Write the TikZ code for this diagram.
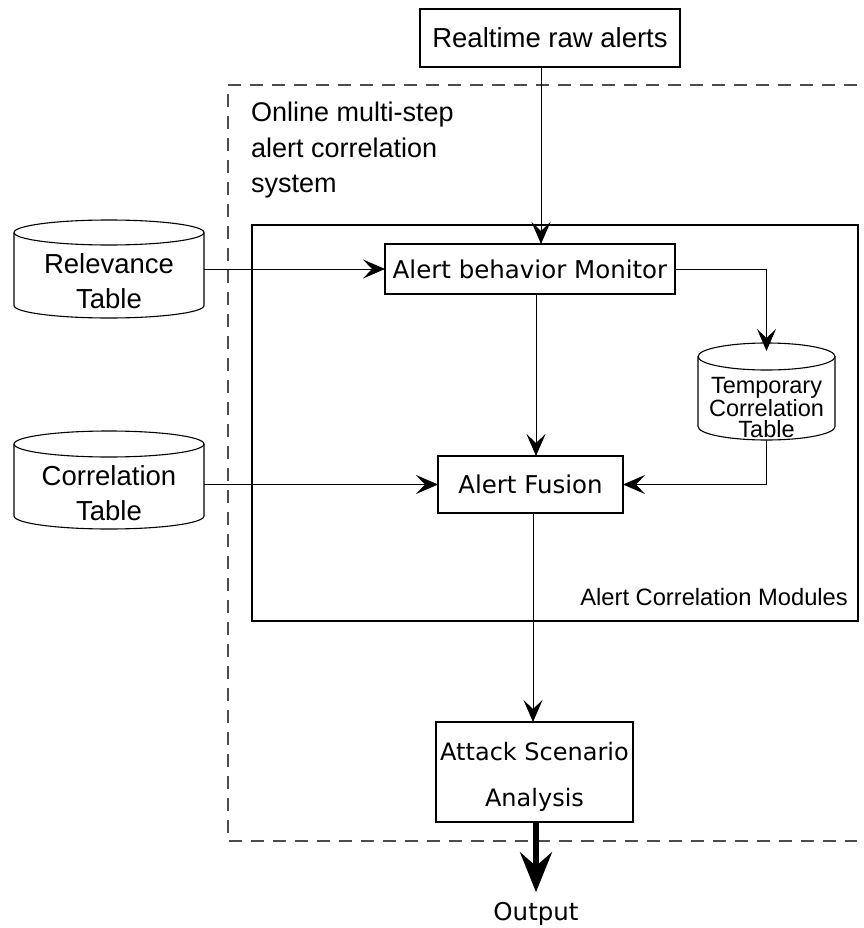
\documentclass[tikz,border=0pt]{standalone}
\usepackage{fontspec}
\setmainfont{Liberation Sans}
\newfontfamily\verd{DejaVu Sans}
\usetikzlibrary{arrows.meta,positioning}
\tikzset{
  box/.style={draw, line width=1.1pt, rectangle, inner sep=0pt, outer sep=0pt, align=center},
  body/.style={rectangle, inner sep=0pt, outer sep=0pt, align=center},
  cyl/.style={draw, line width=1.1pt},
  arr/.style={line width=1pt, -{Stealth[length=22pt, width=19pt, inset=9pt]}},
  bigarr/.style={line width=5.5pt, -{Stealth[length=40pt, width=32pt, inset=14pt]}},
  vfont/.style={font=\verd\fontsize{24.5}{29}\selectfont},
  afont/.style={font=\fontsize{27.5}{35}\selectfont}
}
\begin{document}
\begin{tikzpicture}[x=1pt,y=-1pt]
\useasboundingbox (0,0) rectangle (863,928);

% outer dashed system boundary (open on the right, as in the picture)
\draw[line width=1.3pt, dash pattern=on 13pt off 9pt, black!70]
  (857,85) -- (228,85) -- (228,841) -- (857,841);
\node[anchor=north west, inner sep=0pt, align=left, font=\fontsize{27}{35.5}\selectfont] (sys) at (251,102)
  {Online multi-step\\alert correlation\\system};

% inner module box
\node[box, line width=1.4pt, minimum width=606pt, minimum height=396pt] (acm) at (555,423) {};
\node[anchor=east, inner sep=0pt, font=\fontsize{23.7}{28}\selectfont] (acml) at (848,597) {Alert Correlation Modules};

% boxes
\node[box, afont, minimum width=260pt, minimum height=58pt] (raw) at (550,38) {Realtime raw alerts};
\node[box, vfont, minimum width=290pt, minimum height=50pt] (mon) at (530,269) {Alert behavior Monitor};
\node[box, vfont, minimum width=185pt, minimum height=57pt] (fus) at (530.5,484.5) {Alert Fusion};
\node[box, font=\verd\fontsize{24}{46}\selectfont, minimum width=197pt, minimum height=100pt] (att) at (534.5,772)
  {\rule{0pt}{28pt}Attack Scenario\\Analysis};
\node[inner sep=0pt, vfont] (out) at (536,914) {Output};

% cylinders (text nodes = body below the top ellipse)
\node[body, afont, minimum width=190pt, minimum height=73pt] (rel) at (109,281.5) {Relevance\\Table};
\node[body, afont, minimum width=190pt, minimum height=72pt] (cor) at (109,493) {Correlation\\Table};
\node[body, font=\fontsize{23.5}{21.5}\selectfont, minimum width=137pt, minimum height=70pt] (tmp) at (766.5,405)
  {\rule{0pt}{21pt}Temporary\\Correlation\\Table};

\draw[cyl] ([yshift=12.5pt]rel.north west) -- ([yshift=12.5pt]rel.south west)
  arc[start angle=180, end angle=360, x radius=95pt, y radius=12.5pt] -- ([yshift=12.5pt]rel.north east);
\draw[cyl] ([yshift=12.5pt]rel.north) ellipse[x radius=95pt, y radius=12.5pt];

\draw[cyl] ([yshift=13pt]cor.north west) -- ([yshift=13pt]cor.south west)
  arc[start angle=180, end angle=360, x radius=95pt, y radius=13pt] -- ([yshift=13pt]cor.north east);
\draw[cyl] ([yshift=13pt]cor.north) ellipse[x radius=95pt, y radius=13pt];

\draw[cyl] ([yshift=13.5pt]tmp.north west) -- ([yshift=13.5pt]tmp.south west)
  arc[start angle=180, end angle=360, x radius=68.5pt, y radius=13.5pt] -- ([yshift=13.5pt]tmp.north east);
\draw[cyl] ([yshift=13.5pt]tmp.north) ellipse[x radius=68.5pt, y radius=13.5pt];

% connectors
\draw[arr] ([xshift=-9pt]raw.south) -- ([xshift=-9pt]raw.south |- mon.north);
\draw[arr] (rel.east |- mon.west) -- (mon.west);
\draw[arr] (cor.east |- fus.west) -- (fus.west);
\draw[arr] ([xshift=6pt]mon.south) -- ([xshift=6pt]mon.south |- fus.north);
\draw[arr] (mon.east) -| ([yshift=19pt]tmp.north);
\draw[arr] (tmp.south) |- (fus.east);
\draw[arr] ([xshift=2.5pt]fus.south) -- ([xshift=2.5pt]fus.south |- att.north);
\draw[bigarr] ([xshift=1.5pt]att.south) -- ([yshift=10pt]out.north);
\end{tikzpicture}
\end{document}
